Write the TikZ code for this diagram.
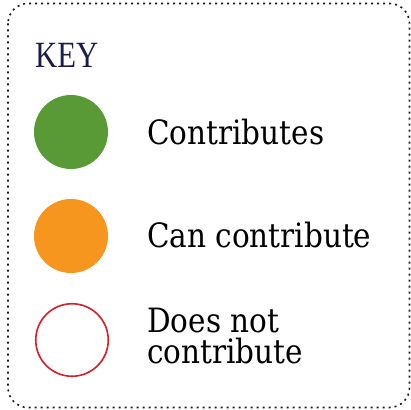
\documentclass[tikz,border=0pt]{standalone}
\usepackage{fontspec}
\setmainfont{DejaVu Serif}
\newfontfamily\keyfont{Liberation Serif}
\definecolor{cgreen}{HTML}{5A9A36}
\definecolor{corange}{HTML}{F7961F}
\definecolor{cred}{HTML}{D0202A}
\definecolor{cnavy}{HTML}{1C1C4A}
\begin{document}
\begin{tikzpicture}[x=1pt,y=-1pt,
  dot/.style={circle,minimum size=74pt,inner sep=0pt},
  lbl/.style={anchor=base west,inner sep=0pt,font=\fontsize{33.5}{31}\selectfont},
  keytitle/.style={anchor=base west,inner sep=0pt,text=cnavy,font=\keyfont\fontsize{37}{40}\selectfont}]
\useasboundingbox (0,0) rectangle (411,409);
\draw[dash pattern=on 2pt off 4pt,line width=1.6pt,color=black!90,rounded corners=20pt] (8,3.5) rectangle (409.5,407.5);
\node[keytitle] (key) at (35,68) {\scalebox{0.83}[1]{KEY}};
\node[dot,fill=cgreen] (c1) at (71,132) {};
\node[dot,fill=corange] (c2) at (71,236) {};
\node[dot,draw=cred,line width=1.6pt,minimum size=72.5pt] (c3) at (72,340) {};
\node[lbl] (t1) at (147,144) {\scalebox{0.88}[1]{Contributes}};
\node[lbl] (t2) at (147,247) {\scalebox{0.88}[1]{Can contribute}};
\node[lbl] (t3) at (147,332) {\scalebox{0.88}[1]{Does not}};
\node[lbl] (t4) at (147,363) {\scalebox{0.88}[1]{contribute}};
\end{tikzpicture}
\end{document}
